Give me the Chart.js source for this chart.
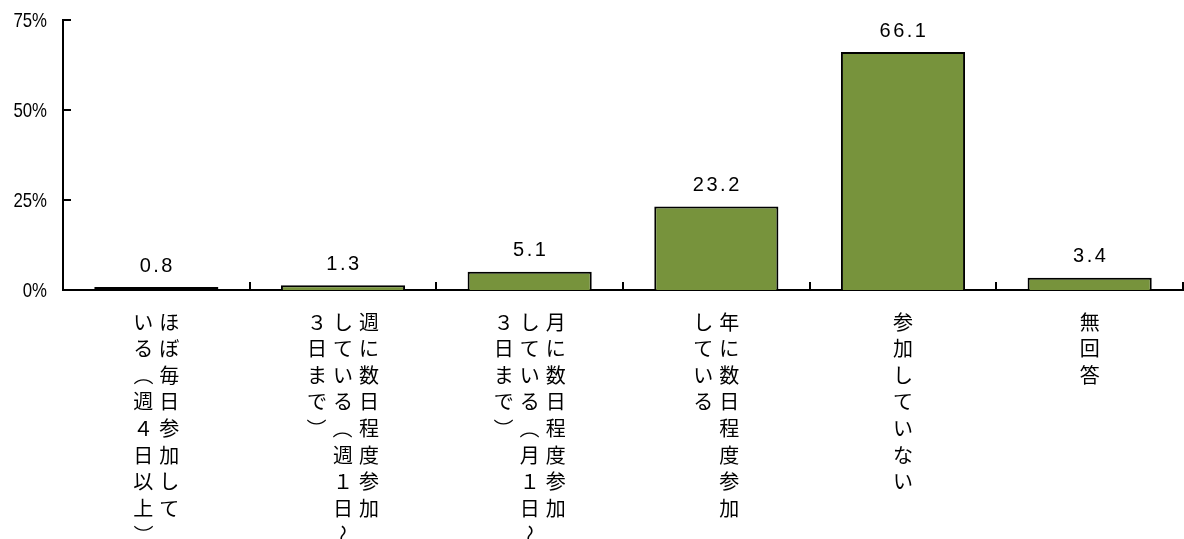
<!DOCTYPE html>
<html><head><meta charset="utf-8">
<script src="https://cdn.jsdelivr.net/npm/chart.js@4.4.0/dist/chart.umd.min.js"></script>
<style>html,body{margin:0;padding:0;background:#fff;}#wrap{width:1184px;height:539px;}</style>
</head><body><div id="wrap"><canvas id="c" width="1184" height="539"></canvas></div>
<script>
// Category labels, each split into its vertical columns (right column first)
const categories = [
  ['ほぼ毎日参加して', 'いる（週４日以上）'],
  ['週に数日程度参加', 'している（週１日〜', '３日まで）'],
  ['月に数日程度参加', 'している（月１日〜', '３日まで）'],
  ['年に数日程度参加', 'している'],
  ['参加していない'],
  ['無回答']
];
const values = [0.8, 1.3, 5.1, 23.2, 66.1, 3.4];
const yTickValues = [0, 25, 50, 75];
const yTickLabels = ['0%', '25%', '50%', '75%'];

const barColor = '#77933C';
const rotateChars = '（）〜';

const customDraw = {
  id: 'customDraw',
  afterDatasetsDraw(chart) {
    const ctx = chart.ctx;
    const meta = chart.getDatasetMeta(0);
    ctx.save();
    ctx.fillStyle = '#000';
    ctx.font = '20px "Liberation Sans", Arial, sans-serif';
    ctx.textAlign = 'center';
    ctx.textBaseline = 'middle';
    try { ctx.letterSpacing = '2.5px'; } catch (e) {}
    meta.data.forEach((el, i) => {
      ctx.fillText(values[i].toFixed(1), el.x + 1, el.y - 21);
    });
    ctx.restore();
  },
  afterDraw(chart) {
    const ctx = chart.ctx;
    const xs = chart.scales.x, ys = chart.scales.y;
    const area = chart.chartArea;
    ctx.save();
    ctx.strokeStyle = '#000';
    ctx.lineWidth = 2;
    // y ticks (inward) and narrow y tick labels
    yTickValues.forEach((v, i) => {
      const y = Math.round(ys.getPixelForValue(v));
      ctx.beginPath();
      ctx.moveTo(area.left, y);
      ctx.lineTo(area.left + 8, y);
      ctx.stroke();
      ctx.save();
      ctx.fillStyle = '#000';
      ctx.font = '21px "Liberation Sans", Arial, sans-serif';
      ctx.textAlign = 'right';
      ctx.textBaseline = 'middle';
      ctx.translate(area.left - 16, y + 1.5);
      ctx.scale(0.8, 1);
      ctx.fillText(yTickLabels[i], 0, 0);
      ctx.restore();
    });
    // x ticks at category boundaries (inward)
    for (let i = 0; i <= categories.length; i++) {
      const x = Math.round(xs.getPixelForValue(i - 0.5));
      ctx.beginPath();
      ctx.moveTo(x, area.bottom);
      ctx.lineTo(x, area.bottom - 8);
      ctx.stroke();
    }
    // vertical category labels
    ctx.fillStyle = '#000';
    ctx.font = '20px "Noto Sans CJK JP", sans-serif';
    ctx.textAlign = 'center';
    ctx.textBaseline = 'middle';
    const colGap = 26, pitch = 26.6, firstY = area.bottom + 32;
    categories.forEach((cols, i) => {
      const cx = xs.getPixelForValue(i);
      const n = cols.length;
      cols.forEach((col, j) => {
        const x = cx + ((n - 1) / 2 - j) * colGap;
        Array.from(col).forEach((ch, k) => {
          const y = firstY + k * pitch;
          if (rotateChars.includes(ch)) {
            ctx.save();
            ctx.translate(x, y);
            ctx.rotate(Math.PI / 2);
            ctx.fillText(ch, 0, 0);
            ctx.restore();
          } else {
            ctx.fillText(ch, x, y);
          }
        });
      });
    });
    ctx.restore();
  }
};

new Chart(document.getElementById('c'), {
  type: 'bar',
  data: {
    labels: categories,
    datasets: [{
      data: values,
      backgroundColor: barColor,
      borderColor: '#000',
      borderWidth: 2,
      borderSkipped: (c) => (values[c.dataIndex] < 1 ? false : 'start'),
      categoryPercentage: 1,
      barPercentage: 0.665
    }]
  },
  options: {
    responsive: false,
    devicePixelRatio: 1,
    animation: false,
    layout: { padding: { top: 20, right: 1, left: 0, bottom: 0 } },
    plugins: { legend: { display: false }, tooltip: { enabled: false } },
    scales: {
      x: {
        grid: { display: false, drawTicks: false },
        border: { display: true, color: '#000', width: 2 },
        ticks: { display: false },
        afterFit(scale) { scale.height = 249; }
      },
      y: {
        min: 0, max: 75,
        grid: { display: false, drawTicks: false },
        border: { display: true, color: '#000', width: 2 },
        afterBuildTicks(scale) { scale.ticks = yTickValues.map(v => ({ value: v })); },
        ticks: { display: false },
        afterFit(scale) { scale.width = 63; }
      }
    }
  },
  plugins: [customDraw]
});
</script>
</body></html>
